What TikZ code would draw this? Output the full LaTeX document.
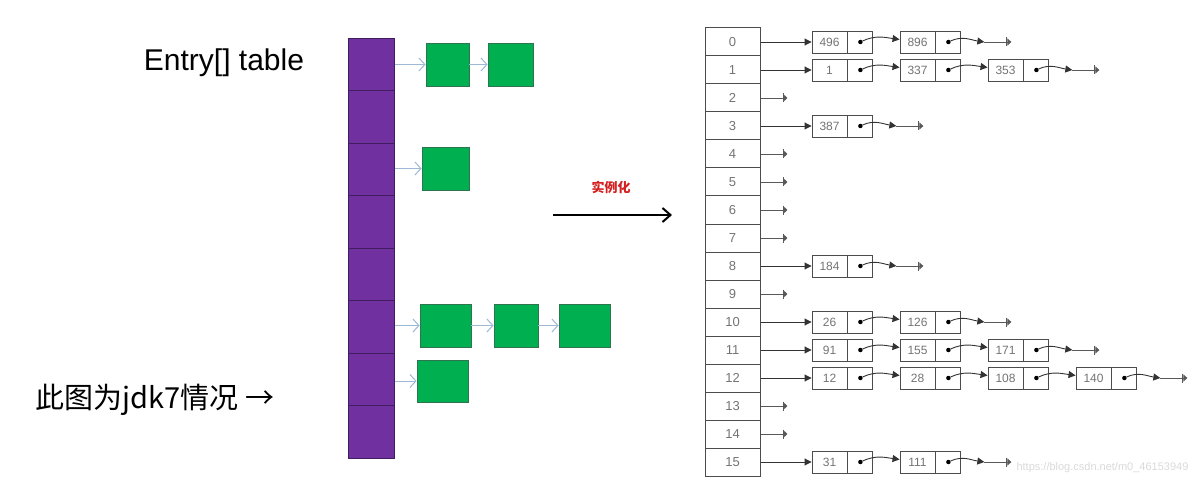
\documentclass[tikz,border=0pt]{standalone}
\usepackage{fontspec}
\setmainfont{Liberation Sans}
\newfontfamily\cjk{Noto Sans CJK SC}
\usetikzlibrary{arrows.meta,positioning}
\definecolor{entrypurple}{HTML}{7030A0}
\definecolor{entryedge}{HTML}{3F1D5F}
\definecolor{nodegreen}{HTML}{00B050}
\definecolor{nodeedge}{HTML}{2E7450}
\definecolor{linkblue}{HTML}{9DB9D5}
\definecolor{markred}{HTML}{D42020}
\tikzset{
  pcell/.style={draw=entryedge, fill=entrypurple, line width=1pt, minimum width=46pt, minimum height=52.5pt, inner sep=0pt},
  gbox/.style={draw=nodeedge, fill=nodegreen, line width=0.8pt, inner sep=0pt},
  blink/.style={draw=linkblue, line width=1pt, -{Straight Barb[length=6pt,width=13pt]}},
  tcell/.style={draw=black!70, line width=1pt, minimum width=55pt, minimum height=28pt, inner sep=0pt, text=black!55, font=\fontsize{13}{13}\selectfont},
  keybox/.style={draw=black!70, line width=0.9pt, minimum width=35pt, minimum height=22pt, inner sep=0pt, text=black!55, font=\fontsize{12}{12}\selectfont},
  ptrbox/.style={draw=black!70, line width=0.9pt, minimum width=25pt, minimum height=22pt, inner sep=0pt},
  dot/.style={circle, fill=black, inner sep=0pt, minimum size=4.5pt},
  hook/.style={draw=black!80, line width=0.9pt, -{Triangle[length=7pt,width=7pt]}},
  tail/.style={draw=black!65, line width=0.9pt, -{Bar[width=9pt]Triangle[length=4pt,width=7pt]}}
}
\begin{document}
\begin{tikzpicture}[x=1pt,y=1pt]
    \useasboundingbox (0,0) rectangle (1198,496);
    \node[font=\fontsize{30}{36}\selectfont] (title) at (224,433) {Entry[] table};
    \node[font=\cjk\fontsize{29}{34}\selectfont, anchor=west] (note) at (32,96) {此图为jdk7情况 →};

    \foreach \i in {0,...,7}
        \node[pcell] (e\i) at (371,{431.5-52.5*\i}) {};

    \node[gbox, minimum width=43pt, minimum height=43pt] (g0a) at (447.5,431.5) {};
    \node[gbox, minimum width=45pt, minimum height=43pt] (g0b) at (510.5,431.5) {};
    \node[gbox, minimum width=47pt, minimum height=43pt] (g2a) at (445.5,327.5) {};
    \node[gbox, minimum width=51pt, minimum height=43pt] (g5a) at (445.5,170.5) {};
    \node[gbox, minimum width=44pt, minimum height=43pt] (g5b) at (516,170.5) {};
    \node[gbox, minimum width=51pt, minimum height=43pt] (g5c) at (584.5,170.5) {};
    \node[gbox, minimum width=51pt, minimum height=42pt] (g6a) at (442.5,115) {};

    \draw[blink] (e0.east |- g0a) -- (g0a);
    \draw[blink] (g0a) -- (g0b);
    \draw[blink] (e2.east |- g2a) -- (g2a);
    \draw[blink] (e5.east |- g5a) -- (g5a);
    \draw[blink] (g5a) -- (g5b);
    \draw[blink] (g5b) -- (g5c);
    \draw[blink] (e6.east |- g6a) -- (g6a);

    \node[font=\cjk\bfseries\fontsize{13}{16}\selectfont, text=markred] (inst) at (611,309) {实例化};
    \coordinate (from) at (553,281);
    \coordinate (to) at (672,281);
    \draw[line width=2pt, -{Straight Barb[length=8pt,width=14pt]}] (from) -- (to);

    \foreach \r in {0,...,15}
        \node[tcell] (t\r) at (732.5,{454-28*\r}) {\r};

    \foreach \r in {2,4,5,6,7,9,13,14} {
        \coordinate (z\r) at ([xshift=27pt]t\r.east);
        \draw[tail] (t\r) -- (z\r);
    }

    \foreach \r/\n/\vals in {0/2/{496,896}, 1/3/{1,337,353}, 3/1/{387}, 8/1/{184}, 10/2/{26,126}, 11/3/{91,155,171}, 12/4/{12,28,108,140}, 15/2/{31,111}} {
        \foreach \v [count=\j] in \vals {
            \node[keybox] (k\r-\j) at ({829.5+88*(\j-1)},{454-28*\r}) {\v};
            \node[ptrbox, right=0pt of k\r-\j] (p\r-\j) {};
            \node[dot] (d\r-\j) at (p\r-\j) {};
            \ifnum\j>1
                \pgfmathtruncatemacro\jp{\j-1}
                \draw[hook] (d\r-\jp) to[out=25,in=172] (k\r-\j);
            \fi
        }
        \draw[hook] (t\r) -- (k\r-1);
        \coordinate (m\r) at ([xshift=23pt]p\r-\n.east);
        \coordinate (z\r) at ([xshift=50pt]p\r-\n.east);
        \draw[hook] (d\r-\n) to[out=25,in=172] (m\r);
        \draw[tail] (m\r) -- (z\r);
    }

    \node[anchor=west, text=black!15, font=\fontsize{11}{11}\selectfont] (mark) at (1013,28) {https://blog.csdn.net/m0\_46153949};
\end{tikzpicture}
\end{document}
